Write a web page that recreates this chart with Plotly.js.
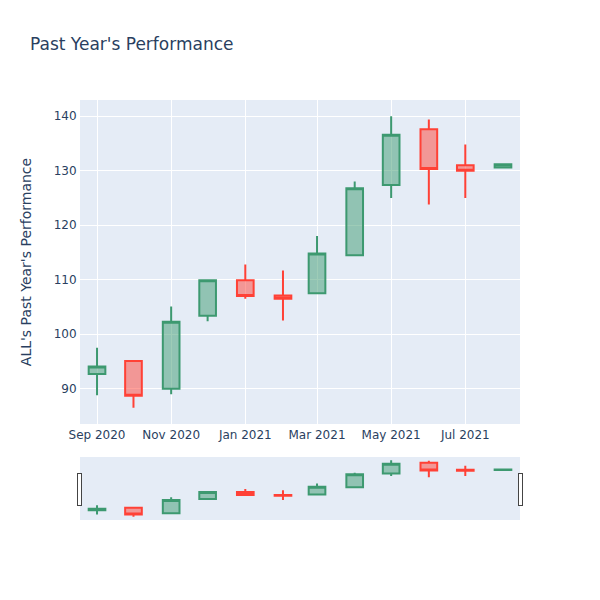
<!DOCTYPE html>
<html>
<head>
<meta charset="utf-8">
<script src="https://cdn.plot.ly/plotly-3.0.1.min.js"></script>
<style>html,body{margin:0;padding:0;}</style>
</head>
<body>
<div id="chart" style="width:600px;height:600px;"></div>
<script>
const dates = ["2020-09-01","2020-10-01","2020-11-01","2020-12-01","2021-01-01","2021-02-01","2021-03-01","2021-04-01","2021-05-01","2021-06-01","2021-07-01","2021-08-01"];
const openVals  = [92.7, 95.1, 90.0, 103.4, 109.9, 107.1, 107.5, 114.5, 127.4, 137.6, 131.0, 130.6];
const highVals  = [97.5, 95.1, 105.1, 110.0, 112.8, 111.7, 118.0, 128.0, 140.0, 139.4, 134.8, 131.2];
const lowVals   = [88.8, 86.5, 89.0, 102.4, 106.5, 102.5, 107.5, 114.5, 125.0, 123.8, 125.0, 130.4];
const closeVals = [94.1, 88.7, 102.3, 109.9, 107.0, 106.5, 114.8, 126.8, 136.6, 130.3, 130.0, 131.2];

const trace = {
  type: "candlestick",
  x: dates,
  open: openVals,
  high: highVals,
  low: lowVals,
  close: closeVals
};
const layout = {
  width: 600,
  height: 600,
  font: {family: "DejaVu Sans, Verdana, sans-serif", color: "#2a3f5f", size: 12},
  paper_bgcolor: "#ffffff",
  plot_bgcolor: "#E5ECF6",
  title: {text: "Past Year's Performance", x: 0.05},
  yaxis: {
    title: {text: "ALL's Past Year's Performance", standoff: 18},
    gridcolor: "white", linecolor: "white", zerolinecolor: "white",
    zerolinewidth: 2, ticks: "", automargin: true
  },
  xaxis: {
    gridcolor: "white", linecolor: "white", zerolinecolor: "white",
    ticks: "", automargin: true,
    rangeslider: {visible: true, bgcolor: "#E5ECF6"}
  }
};
Plotly.newPlot("chart", [trace], layout, {displayModeBar: false});
</script>
</body>
</html>
